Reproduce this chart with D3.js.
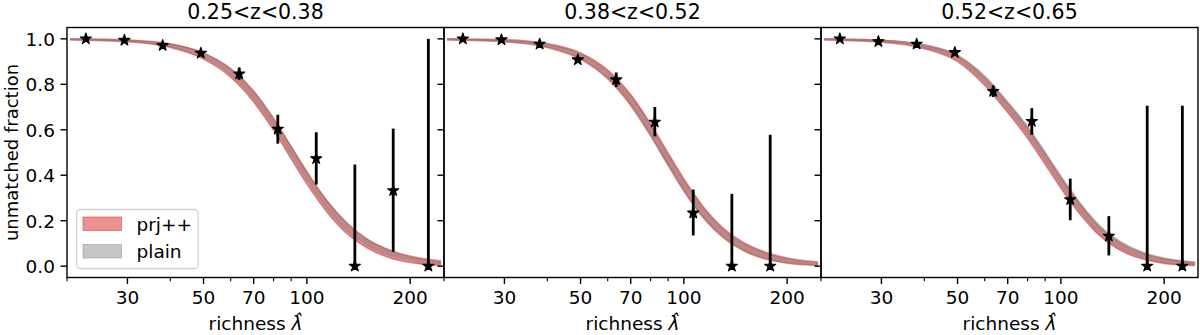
<!DOCTYPE html>
<html lang="en">
<head>
    <meta charset="UTF-8">
    <title>Unmatched fraction vs richness</title>
    <script src="https://d3js.org/d3.v7.min.js"></script>
    <style>
        body { margin: 0; background: #fff; }
        svg { display: block; font-family: "DejaVu Sans", sans-serif; }
    </style>
</head>
<body>
    <svg width="1200" height="335"></svg>

    <script>
        // panel titles
        const titles = ["0.25<z<0.38", "0.38<z<0.52", "0.52<z<0.65"];

        // richness grid for the model bands
        const lamGrid = [20.5, 30, 40, 50, 60, 70, 80, 90, 100, 115, 130, 150, 175, 200, 245];

        // panel 1 bands
        const prjLo1   = [.995, .987, .962, .911, .831, .722, .598, .473, .362, .234, .147, .080, .036, .016, .003];
        const prjHi1   = [1.00, .995, .978, .938, .869, .770, .650, .527, .416, .284, .194, .119, .070, .044, .023];
        const plainLo1 = [.996, .988, .966, .918, .842, .736, .614, .490, .379, .249, .161, .092, .047, .026, .010];
        const plainHi1 = [1.00, .995, .977, .937, .866, .767, .647, .525, .414, .283, .192, .117, .067, .040, .019];
        // panel 2 bands
        const prjLo2   = [.995, .987, .962, .910, .824, .707, .573, .443, .330, .205, .126, .066, .029, .013, .003];
        const prjHi2   = [1.00, .996, .979, .938, .863, .755, .626, .497, .384, .254, .168, .102, .059, .036, .018];
        const plainLo2 = [.996, .988, .965, .915, .831, .715, .581, .451, .338, .212, .132, .071, .034, .017, .005];
        const plainHi2 = [1.00, .995, .976, .933, .856, .747, .618, .489, .376, .247, .162, .096, .054, .032, .015];
        // panel 3 bands
        const prjLo3   = [.995, .985, .957, .900, .795, .676, .563, .448, .343, .220, .133, .067, .029, .012, .003];
        const prjHi3   = [1.00, .994, .972, .925, .830, .716, .607, .494, .389, .262, .171, .100, .054, .032, .016];
        const plainLo3 = [.996, .987, .962, .909, .806, .688, .578, .463, .358, .233, .143, .076, .036, .016, .005];
        const plainHi3 = [1.00, .995, .975, .929, .838, .724, .616, .503, .398, .271, .178, .107, .060, .036, .018];

        // measured points (richness bins)
        const lamBins = [22.7, 29.4, 38.0, 49.1, 63.5, 82.3, 106.5, 138, 178.5, 226];
        const frac1 = [1.0, 0.994, 0.971, 0.937, 0.846, 0.603, 0.473, 0.0, 0.332, 0.0];
        const errLo1 = [1.0, 0.994, 0.971, 0.937, 0.820, 0.539, 0.359, 0.0, 0.063, 0.0];
        const errHi1 = [1.0, 0.994, 0.971, 0.937, 0.874, 0.666, 0.589, 0.447, 0.605, 1.0];
        const frac2 = [1.0, 0.996, 0.977, 0.908, 0.820, 0.634, 0.234, 0.0, 0.0];
        const errLo2 = [1.0, 0.996, 0.977, 0.908, 0.788, 0.571, 0.135, 0.0, 0.0];
        const errHi2 = [1.0, 0.996, 0.977, 0.908, 0.852, 0.700, 0.337, 0.318, 0.578];
        const frac3 = [1.0, 0.988, 0.977, 0.940, 0.769, 0.637, 0.293, 0.132, 0.0, 0.0];
        const errLo3 = [1.0, 0.988, 0.977, 0.940, 0.744, 0.578, 0.202, 0.047, 0.0, 0.0];
        const errHi3 = [1.0, 0.988, 0.977, 0.940, 0.794, 0.695, 0.385, 0.220, 0.706, 0.706];

        const xMajor = [30, 50, 70, 100, 200];
        const xMinor = [20, 40, 60, 80, 90];
        const yTicks = [0, 0.2, 0.4, 0.6, 0.8, 1.0];

        const panels = [
            { prjLo: prjLo1, prjHi: prjHi1, plainLo: plainLo1, plainHi: plainHi1, frac: frac1, lo: errLo1, hi: errHi1 },
            { prjLo: prjLo2, prjHi: prjHi2, plainLo: plainLo2, plainHi: plainHi2, frac: frac2, lo: errLo2, hi: errHi2 },
            { prjLo: prjLo3, prjHi: prjHi3, plainLo: plainLo3, plainHi: plainHi3, frac: frac3, lo: errLo3, hi: errHi3 }
        ];

        const svg = d3.select("svg");
        const plotLeft = 67, plotTop = 27.5, pw = 377, ph = 250;
        const redCol = "#d62728", grayCol = "#808080";
        const fs = 18.5;

        const y = d3.scaleLinear().domain([-0.05, 1.05]).range([plotTop + ph, plotTop]);

        panels.forEach((p, i) => {
            const x0 = plotLeft + i * pw;
            const x = d3.scaleLog().domain([20, 251]).range([x0, x0 + pw]);
            const g = svg.append("g");

            const clipId = "clip" + i;
            svg.append("clipPath").attr("id", clipId)
                .append("rect").attr("x", x0).attr("y", plotTop).attr("width", pw).attr("height", ph);

            const bands = g.append("g").attr("clip-path", `url(#${clipId})`);

            // prj++ band first, plain on top
            const area = (lo, hi) => d3.area()
                .x((d, j) => x(lamGrid[j]))
                .y0((d, j) => y(lo[j]))
                .y1((d, j) => y(hi[j]))
                .curve(d3.curveMonotoneX)(lamGrid);

            bands.append("path")
                .attr("d", area(p.prjLo, p.prjHi))
                .attr("fill", redCol).attr("fill-opacity", 0.5)
                .attr("stroke", redCol).attr("stroke-opacity", 0.5).attr("stroke-width", 1.6);
            bands.append("path")
                .attr("d", area(p.plainLo, p.plainHi))
                .attr("fill", grayCol).attr("fill-opacity", 0.45)
                .attr("stroke", grayCol).attr("stroke-opacity", 0.45).attr("stroke-width", 1.2);

            // error bars
            g.selectAll(".err").data(p.frac).enter().append("line")
                .attr("x1", (d, j) => x(lamBins[j]))
                .attr("x2", (d, j) => x(lamBins[j]))
                .attr("y1", (d, j) => y(p.lo[j]))
                .attr("y2", (d, j) => y(p.hi[j]))
                .attr("stroke", "#000").attr("stroke-width", 2.8);

            // star markers
            const star = d3.symbol().type(d3.symbolStar).size(38);
            g.selectAll(".star").data(p.frac).enter().append("path")
                .attr("d", star)
                .attr("transform", (d, j) => `translate(${x(lamBins[j])},${y(d)})`)
                .attr("fill", "#000").attr("stroke", "#000").attr("stroke-width", 1.2)
                .attr("stroke-linejoin", "round");

            // frame
            g.append("rect")
                .attr("x", x0).attr("y", plotTop).attr("width", pw).attr("height", ph)
                .attr("fill", "none").attr("stroke", "#000").attr("stroke-width", 1.4);

            // x ticks
            const xAxis = g.append("g");
            xMajor.forEach(v => {
                xAxis.append("line")
                    .attr("x1", x(v)).attr("x2", x(v))
                    .attr("y1", plotTop + ph).attr("y2", plotTop + ph + 6.5)
                    .attr("stroke", "#000").attr("stroke-width", 1.4);
                xAxis.append("text")
                    .attr("x", x(v)).attr("y", plotTop + ph + 26.5)
                    .attr("text-anchor", "middle").attr("font-size", fs)
                    .text(v);
            });
            xMinor.forEach(v => {
                xAxis.append("line")
                    .attr("x1", x(v)).attr("x2", x(v))
                    .attr("y1", plotTop + ph).attr("y2", plotTop + ph + 3.7)
                    .attr("stroke", "#000").attr("stroke-width", 1.1);
            });

            // y ticks
            yTicks.forEach(v => {
                g.append("line")
                    .attr("x1", x0 - 6.5).attr("x2", x0)
                    .attr("y1", y(v)).attr("y2", y(v))
                    .attr("stroke", "#000").attr("stroke-width", 1.4);
                if (i === 0) {
                    g.append("text")
                        .attr("x", x0 - 12).attr("y", y(v) + 7)
                        .attr("text-anchor", "end").attr("font-size", fs)
                        .text(v.toFixed(1));
                }
            });

            // title
            g.append("text")
                .attr("x", x0 + pw / 2).attr("y", 18.5)
                .attr("text-anchor", "middle").attr("font-size", 20.5)
                .text(titles[i]);

            // x label
            const xl = g.append("text")
                .attr("x", x0 + pw / 2).attr("y", 330)
                .attr("text-anchor", "middle").attr("font-size", fs);
            xl.append("tspan").text("richness ");
            xl.append("tspan").attr("font-style", "italic").text("\u03bb\u0302");
        });

        // y label
        svg.append("text")
            .attr("transform", `translate(17.5,${plotTop + ph / 2}) rotate(-90)`)
            .attr("text-anchor", "middle").attr("font-size", 18)
            .text("unmatched fraction");

        // legend
        const leg = svg.append("g");
        leg.append("rect")
            .attr("x", 76.7).attr("y", 209.5).attr("width", 121.5).attr("height", 59).attr("rx", 3.5)
            .attr("fill", "#fff").attr("fill-opacity", 0.8)
            .attr("stroke", "#d0d0d0").attr("stroke-width", 1.3);
        const legItems = [
            { label: "prj++", col: redCol, op: 0.5 },
            { label: "plain", col: grayCol, op: 0.45 }
        ];
        legItems.forEach((d, j) => {
            const ly = 217 + j * 27.5;
            leg.append("rect")
                .attr("x", 83).attr("y", ly).attr("width", 38.5).attr("height", 13.5)
                .attr("fill", d.col).attr("fill-opacity", d.op)
                .attr("stroke", d.col).attr("stroke-opacity", d.op);
            leg.append("text")
                .attr("x", 136.5).attr("y", ly + 13.5)
                .attr("font-size", fs)
                .text(d.label);
        });
    </script>
</body>
</html>
